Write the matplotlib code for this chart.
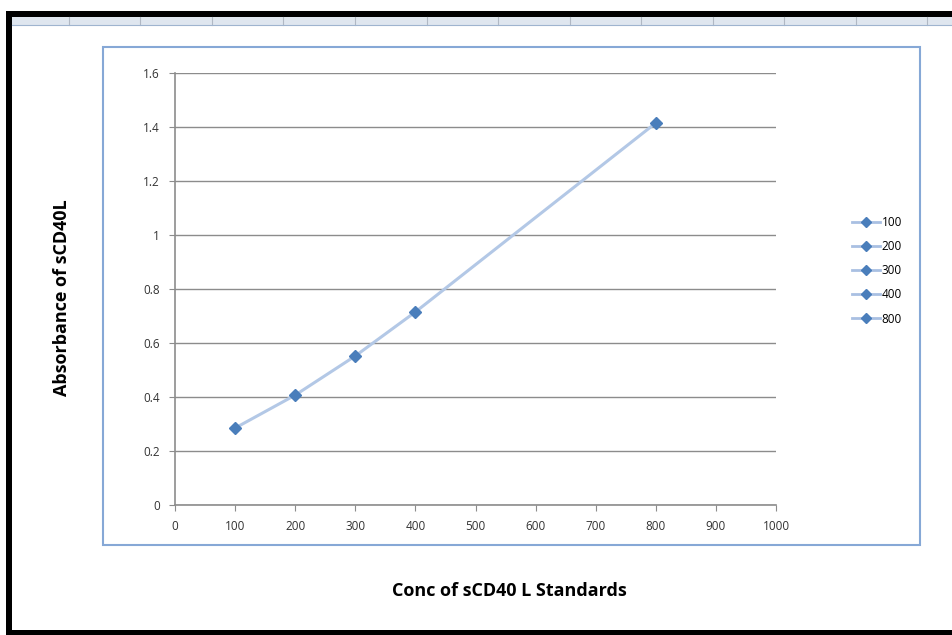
import matplotlib
matplotlib.use("Agg")
import matplotlib.pyplot as plt
from matplotlib.patches import Rectangle
from matplotlib.lines import Line2D

conc = [100, 200, 300, 400, 800]
absorbance = [0.285, 0.407, 0.552, 0.715, 1.415]
labels = ["100", "200", "300", "400", "800"]
xticks = list(range(0, 1001, 100))
yticks = [0, 0.2, 0.4, 0.6, 0.8, 1.0, 1.2, 1.4, 1.6]
ytick_labels = ["0", "0.2", "0.4", "0.6", "0.8", "1", "1.2", "1.4", "1.6"]

W, H = 953, 635
fig = plt.figure(figsize=(W / 100, H / 100), dpi=100)
fig.patch.set_facecolor("white")

def px(x0, y0, x1, y1):
    return (x0 / W, 1 - y1 / H, (x1 - x0) / W, (y1 - y0) / H)

# screenshot frame: black borders + spreadsheet header strip
for (x0, y0, x1, y1, c) in [(6, 11, W, 17, "black"), (6, 11, 12, 635, "black"),
                            (6, 630, W, 635, "black"), (12, 17, W, 25, "#dfe6ef")]:
    l, b, w, h = px(x0, y0, x1, y1)
    fig.patches.append(Rectangle((l, b), w, h, transform=fig.transFigure,
                                 facecolor=c, edgecolor="none", zorder=0))
for xd in [69, 140, 212, 283, 355, 427, 498, 570, 641, 713, 784, 856, 927]:
    fig.add_artist(Line2D([xd / W, xd / W], [1 - 17 / H, 1 - 25 / H],
                          transform=fig.transFigure, color="#b0b8c4", lw=0.8))
fig.add_artist(Line2D([12 / W, 1], [1 - 25 / H, 1 - 25 / H],
                      transform=fig.transFigure, color="#9fb4cf", lw=0.8))

# chart frame
l, b, w, h = px(103, 47, 920, 545)
fig.patches.append(Rectangle((l, b), w, h, transform=fig.transFigure,
                             facecolor="none", edgecolor="#86a8d6", lw=1.5, zorder=1))

ax = fig.add_axes([175 / W, 1 - 505 / H, (776 - 175) / W, (505 - 73) / H])
ax.set_facecolor("none")
ax.plot(conc, absorbance, color="#b3c8e6", lw=2.2, zorder=2)
for xv, yv, lab in zip(conc, absorbance, labels):
    ax.plot([xv], [yv], color="#a9c0e2", lw=2, marker="D", markersize=6,
            markerfacecolor="#4a7ebb", markeredgecolor="#4a7ebb", label=lab, zorder=3)

ax.set_xlim(0, 1000)
ax.set_ylim(0, 1.6)
ax.set_xticks(xticks)
ax.set_yticks(yticks)
ax.set_yticklabels(ytick_labels)
ax.yaxis.grid(True, color="#8c8c8c", lw=1)
ax.set_axisbelow(True)
for s in ["top", "right"]:
    ax.spines[s].set_visible(False)
for s in ["left", "bottom"]:
    ax.spines[s].set_color("#8c8c8c")
    ax.spines[s].set_linewidth(1.2)
ax.tick_params(direction="out", length=4, color="#8c8c8c", labelsize=8.5,
               labelcolor="#333333", pad=7)
for t in ax.get_yticklabels() + ax.get_xticklabels():
    t.set_fontfamily("Open Sans")

fig.legend(loc="upper left", bbox_to_anchor=(847 / W, 1 - 211 / H), frameon=False,
           prop={"family": "Open Sans", "size": 8.5}, handlelength=2.4, markerscale=0.8,
           handletextpad=0.15, labelspacing=0.95, borderaxespad=0)

fig.text(62 / W, 1 - 298 / H, "Absorbance of sCD40L", rotation=90, ha="center",
         va="center", fontsize=13, fontweight="bold", family="Open Sans")
fig.text(509 / W, 1 - 591 / H, "Conc of sCD40 L Standards", ha="center", va="center",
         fontsize=13, fontweight="bold", family="Open Sans")

fig.savefig("out.png", dpi=100)
